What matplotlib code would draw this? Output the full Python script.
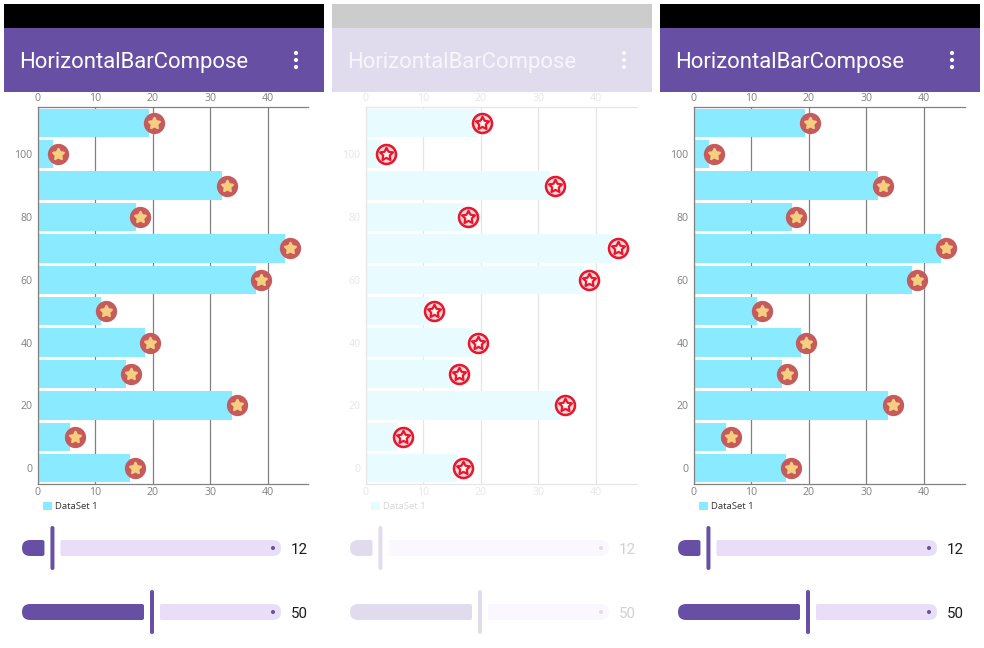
import matplotlib
matplotlib.use("Agg")
import matplotlib.pyplot as plt
from matplotlib.patches import Rectangle, FancyBboxPatch, Circle

# ---- data ----
positions = [0, 10, 20, 30, 40, 50, 60, 70, 80, 90, 100, 110]
values = [16.0, 5.6, 33.8, 15.3, 18.6, 11.0, 37.9, 43.0, 17.0, 32.0, 2.7, 19.3]
icon_offset = 0.85
x_ticks = [0, 10, 20, 30, 40]
y_ticks = [0, 20, 40, 60, 80, 100]
slider_values = [12, 50]
title = "HorizontalBarCompose"
series_name = "DataSet 1"
panel_offsets = [0, 328, 656]
panel_fade = [1.0, 0.2, 1.0]
panel_icon_style = ["plain", "outlined", "plain"]

# ---- style ----
PX = 1 / 100
W, H = 984, 648
PURPLE = "#6750A4"
LILAC = "#E8DEF8"
BAR = "#8AEAFF"
GRID = "#808080"
TICK = "#808080"


def fade(color, a):
    r, g, b = matplotlib.colors.to_rgb(color)
    return (1 - a + a * r, 1 - a + a * g, 1 - a + a * b)


fig = plt.figure(figsize=(W * PX, H * PX), dpi=100, facecolor="white")
bg = fig.add_axes([0, 0, 1, 1], zorder=0)
bg.set_xlim(0, W)
bg.set_ylim(H, 0)
bg.axis("off")


def rrect(x0, x1, y0, y1, r, color, z=2):
    bg.add_patch(FancyBboxPatch((x0 + r, y0 + r), x1 - x0 - 2 * r, y1 - y0 - 2 * r,
                                boxstyle=f"round,pad={r},rounding_size={r}",
                                fc=color, ec="none", zorder=z))


def slider(off, yc, value, a):
    xv = off + 21 + 2.62 * value
    yt, yb = yc - 8, yc + 8
    # active part: rounded at the outer end, small corner at the inner end
    rrect(off + 30, xv - 8, yt, yb, 2, fade(PURPLE, a))
    rrect(off + 22, off + 38, yt, yb, 8, fade(PURPLE, a))
    rrect(xv + 8, off + 273, yt, yb, 2, fade(LILAC, a))
    rrect(off + 265, off + 281, yt, yb, 8, fade(LILAC, a))
    rrect(xv - 2, xv + 2, yc - 22, yc + 22, 2, fade(PURPLE, a), z=3)
    bg.add_patch(Circle((off + 273, yc), 2, fc=fade(PURPLE, a), ec="none", zorder=3))
    bg.text(off + 299, yc, str(value), ha="center", va="center_baseline",
            family="Roboto", fontsize=10.8, color=fade("#1C1B1F", a))


for off, a, style in zip(panel_offsets, panel_fade, panel_icon_style):
    # app bar
    bg.add_patch(Rectangle((off + 4, 4), 320, 24, fc=fade("#000000", a), ec="none"))
    bg.add_patch(Rectangle((off + 4, 28), 320, 64, fc=fade(PURPLE, a), ec="none"))
    bg.text(off + 19.2, 60, title, ha="left", va="center_baseline", family="Roboto",
            fontsize=15.9, color="white", alpha=1 if a == 1 else 0.75)
    for dy in (-7, 0, 7):
        bg.add_patch(Circle((off + 296, 60 + dy), 2.1, fc="white", ec="none",
                            alpha=1 if a == 1 else 0.75))

    # chart
    ax = fig.add_axes([(off + 37.5) / W, 1 - 484 / H, 271 / W, 377 / H], zorder=1)
    ax.patch.set_alpha(0)
    ax.set_xlim(0, 47)
    ax.set_ylim(-5, 115)
    ax.set_axisbelow(True)
    ax.barh(positions, values, height=9, color=fade(BAR, a), label=series_name, zorder=2)
    ax.set_xticks(x_ticks)
    ax.set_yticks(y_ticks)
    ax.grid(axis="x", color=fade(GRID, a), lw=0.9, zorder=1)
    ax.grid(axis="y", visible=False)
    ax.tick_params(axis="both", length=0, labelsize=7.6, labelcolor=fade(TICK, a))
    ax.tick_params(axis="x", top=False, labeltop=True, labelbottom=True, pad=2.5)
    ax.tick_params(axis="y", pad=3.5)
    for lab in ax.get_xticklabels() + ax.get_yticklabels():
        lab.set_family("Open Sans")
    ax.spines["right"].set_visible(False)
    for s in ("left", "top", "bottom"):
        ax.spines[s].set_color(fade(GRID, a))
        ax.spines[s].set_linewidth(0.9)

    # icons
    ix = [v + icon_offset for v in values]
    if style == "plain":
        ax.scatter(ix, positions, s=235, marker="o", color="#C75B5B", lw=0, zorder=4, clip_on=False)
        ax.scatter(ix, positions, s=66, marker=(5, 1, 0), color="#F5CE7F", ec="#F5CE7F",
                   lw=1.6, zorder=5, clip_on=False)
    else:
        ax.scatter(ix, positions, s=240, marker="o", color="#E8162E", lw=0, zorder=4, clip_on=False)
        ax.scatter(ix, positions, s=140, marker="o", color="#F0DADA", lw=0, zorder=5, clip_on=False)
        ax.scatter(ix, positions, s=95, marker=(5, 1, 0), color="#E8162E", ec="#E8162E",
                   lw=1.6, zorder=6, clip_on=False)
        ax.scatter(ix, positions, s=26, marker=(5, 1, 0), color="#FFF8F0", lw=0.5,
                   ec="#FFF8F0", zorder=7, clip_on=False)

    # legend
    leg = ax.legend(loc="upper left", bbox_to_anchor=(0.007, -0.038), frameon=False,
                    handlelength=0.95, handleheight=0.95, handletextpad=0.35,
                    borderpad=0, borderaxespad=0.4,
                    prop={"family": "Open Sans", "size": 6.8})
    leg.get_texts()[0].set_color(fade("#333333", a))

    # sliders
    for yc, v in zip((548, 612), slider_values):
        slider(off, yc, v, a)

fig.savefig("out.png", dpi=100)
